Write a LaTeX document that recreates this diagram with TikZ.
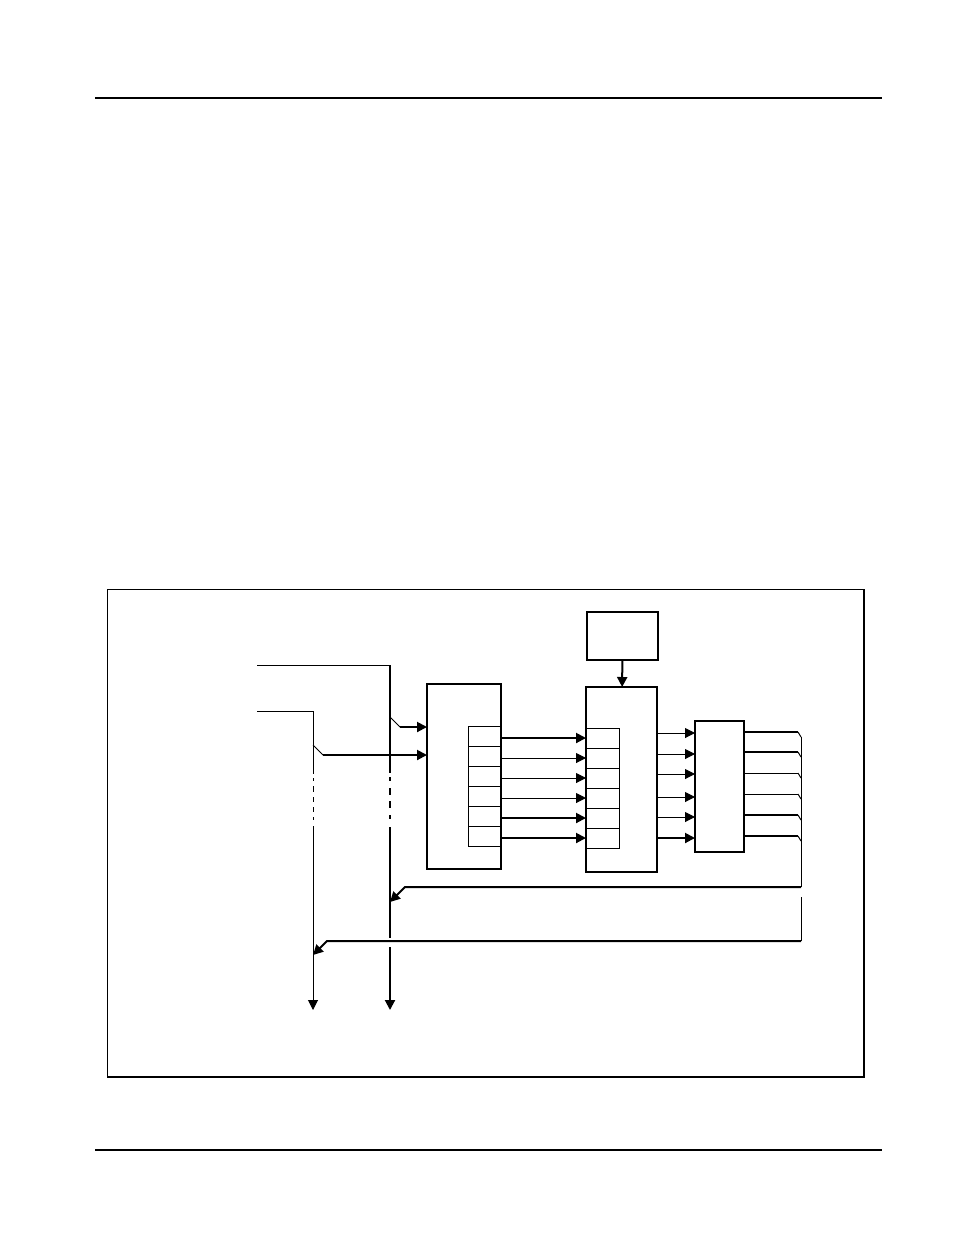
\documentclass[tikz,border=0pt]{standalone}
\usetikzlibrary{arrows.meta,positioning}

\begin{document}
\begin{tikzpicture}[x=1pt,y=-1pt,
  block/.style={draw,line width=2pt,inner sep=0pt,outer sep=0pt,anchor=north west},
  cell/.style={draw,line width=1pt,inner sep=0pt,outer sep=0pt,minimum width=33pt,minimum height=20pt},
  wire/.style={line width=1pt},
  bus/.style={line width=2pt},
  signal/.style={->,>={Triangle[width=10pt,length=10pt]}}]

  \useasboundingbox (0,0) rectangle (954,1235);

  \draw[line width=1.3pt] (95,98) -- (882,98);
  \draw[line width=1.3pt] (95,1150) -- (882,1150);
  \draw[line width=1pt] (107,589) rectangle (864,1077);
  \draw[line width=2pt] (107,1077) -- (864,1077) -- (864,589);

  \node[block,minimum width=71pt,minimum height=48pt] (ctrl) at (587,612) {};
  \node[block,minimum width=71pt,minimum height=185pt] (mux) at (586,687) {};
  \node[block,line width=1.5pt,minimum width=74pt,minimum height=185pt] (inbox) at (427,684) {};
  \node[block,minimum width=49pt,minimum height=131pt] (outbox) at (695,721) {};

  \node[cell,anchor=north west] (lc1) at (468,726) {};
  \node[cell,anchor=north west] (mc1) at (586,728) {};
  \foreach \i [count=\j from 2] in {1,...,5} {
    \node[cell,below=0pt of lc\i] (lc\j) {};
    \node[cell,below=0pt of mc\i] (mc\j) {};
  }

  \draw[bus,signal] (ctrl) -- (mux);

  \foreach \i/\s in {1/bus,2/wire,3/wire,4/wire,5/bus,6/bus}
    \draw[\s,signal] (mc\i.west -| lc\i.east) -- (mc\i.west);

  \foreach \y/\s [count=\i] in {733/wire,754/wire,774/wire,797/wire,817/wire,838/bus} {
    \coordinate (mo\i) at (657,\y);
    \draw[\s,signal] (mo\i) -- (mo\i -| outbox.west);
  }

  \foreach \y/\s [count=\i] in {732/bus,752/bus,773/wire,794/wire,815/bus,836/bus} {
    \coordinate (oo\i) at (744,\y);
    \draw[\s] (oo\i) -- ++(54,0) coordinate (ok\i);
    \draw[wire] (ok\i) -- ++(3,5);
  }

  \coordinate (inA) at (257,665);
  \coordinate (busA) at (390,665);
  \coordinate (tapA) at (390,717);
  \coordinate (brkA1) at (390,773);
  \coordinate (dotA1) at (390,777);
  \coordinate (dotA2) at (390,819);
  \coordinate (brkA2) at (390,827);
  \coordinate (hopA1) at (390,938);
  \coordinate (hopA2) at (390,947);
  \coordinate (endA) at (390,1010);

  \coordinate (inB) at (257,711);
  \coordinate (busB) at (313,711);
  \coordinate (tapB) at (313,745);
  \coordinate (brkB1) at (313,774);
  \coordinate (dotB1) at (313,778);
  \coordinate (dotB2) at (313,820);
  \coordinate (brkB2) at (313,826);
  \coordinate (endB) at (313,1010);

  \draw[wire] (inA) -- (busA);
  \draw[bus] (busA) -- (brkA1);
  \draw[bus,dash pattern=on 4pt off 7pt on 7pt off 6pt on 7pt off 7pt on 4pt off 50pt] (dotA1) -- (dotA2);
  \draw[bus] (brkA2) -- (hopA1);
  \draw[bus,signal] (hopA2) -- (endA);

  \draw[wire] (inB) -- (busB) -- (brkB1);
  \draw[wire,dash pattern=on 3pt off 5pt on 6pt off 5pt on 5pt off 5pt on 5pt off 5pt on 3pt off 50pt] (dotB1) -- (dotB2);
  \draw[wire,signal] (brkB2) -- (endB);

  \draw[wire] (tapA) -- ++(10,10) coordinate (tapA');
  \draw[bus,signal] (tapA') -- (tapA' -| inbox.west);
  \draw[wire] (tapB) -- ++(10,10) coordinate (tapB');
  \draw[bus,signal] (tapB') -- (tapB' -| inbox.west);

  \coordinate (rb1) at (801,737);
  \coordinate (rb2) at (801,887);
  \coordinate (fb1) at (405,887);
  \coordinate (fb1tip) at (390,902);
  \draw[wire] (rb1) -- (rb2);
  \draw[bus,signal] (rb2) -- (fb1) -- (fb1tip);

  \coordinate (rb3) at (801,897);
  \coordinate (rb4) at (801,941);
  \coordinate (fb2) at (327,941);
  \coordinate (fb2tip) at (313,955);
  \draw[wire] (rb3) -- (rb4);
  \draw[bus,signal] (rb4) -- (fb2) -- (fb2tip);
\end{tikzpicture}
\end{document}
